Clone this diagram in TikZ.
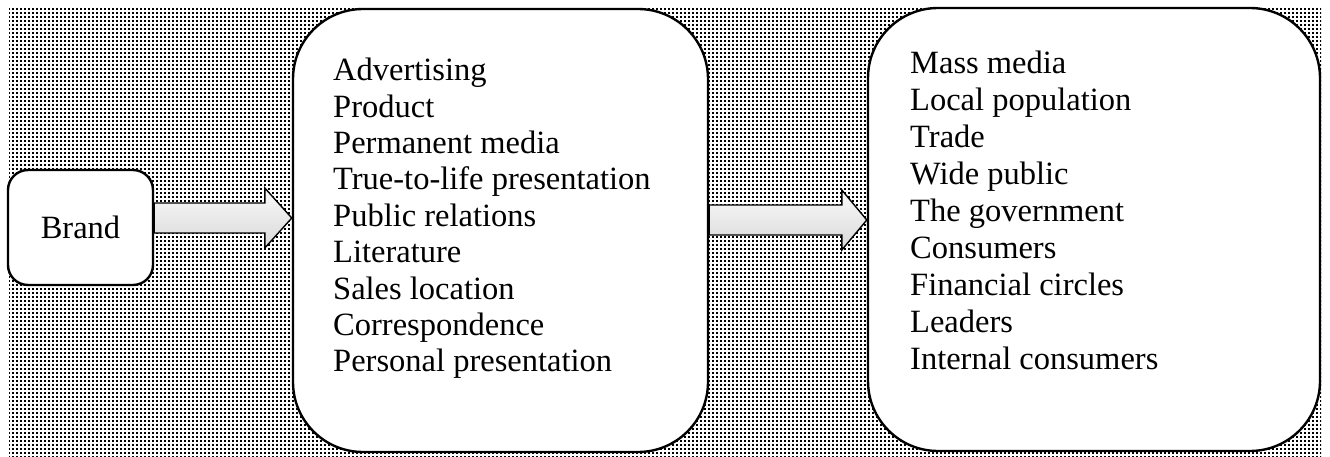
\documentclass[tikz,border=0pt]{standalone}
\usepackage{fontspec}
\setmainfont{Liberation Serif}
\usetikzlibrary{positioning, calc, patterns.meta}

\tikzdeclarepattern{
  name=dotgrid,
  type=uncolored,
  bounding box={(0pt,0pt) and (4.3pt,4.3pt)},
  tile size={(4.3pt,4.3pt)},
  code={\fill (0pt,0pt) rectangle (2.1pt,2.1pt);}
}

\tikzset{
  box/.style={draw, line width=2.4pt, fill=white, rounded corners=#1},
  itemlist/.style={align=left, inner sep=0pt, anchor=north west,
    font=\fontsize{32.5}{#1}\selectfont},
  fatarrow/.style={draw, line width=1.4pt, top color=gray!4, bottom color=gray!30}
}

% block arrow between two points: #1 start, #2 tip, #3 head length
\newcommand{\blockarrow}[3]{%
  \path[fatarrow] let \p1=(#1), \p2=(#2) in
    (\x1,\y1+15pt) -- (\x2-#3,\y1+15pt) -- (\x2-#3,\y1+30pt) -- (\x2,\y1)
    -- (\x2-#3,\y1-30pt) -- (\x2-#3,\y1-15pt) -- (\x1,\y1-15pt) -- cycle;
}

\begin{document}
\begin{tikzpicture}[x=1pt, y=-1pt]

        \useasboundingbox (0,0) rectangle (1330,457);

        % dotted background
        \fill[pattern=dotgrid, pattern color=black] (9,7) rectangle (1321,457);

        % boxes
        \node[box=20pt, minimum width=145pt, minimum height=115pt,
              font=\fontsize{32.5}{36.5}\selectfont] (brand) at (80.5,227.5) {Brand};
        \node[box=70pt, minimum width=415pt, minimum height=443pt] (media) at (500.5,230.5) {};
        \node[box=70pt, minimum width=452pt, minimum height=443pt] (public) at (1094,229.5) {};

        % lists
        \node[itemlist=36.4] (medialist) at (333,58) {Advertising\\ Product\\ Permanent media\\
            True-to-life presentation\\ Public relations\\ Literature\\ Sales location\\
            Correspondence\\ Personal presentation};
        \node[itemlist=37] (publiclist) at (910,51) {Mass media\\ Local population\\ Trade\\
            Wide public\\ The government\\ Consumers\\ Financial circles\\ Leaders\\
            Internal consumers};

        % arrows
        \coordinate (a1) at (brand.east |- 0,218);
        \coordinate (b1) at (media.west |- 0,218);
        \coordinate (a2) at (media.east |- 0,220);
        \coordinate (b2) at (public.west |- 0,220);
        \blockarrow{a1}{b1}{27pt}
        \blockarrow{a2}{b2}{25pt}

\end{tikzpicture}
\end{document}
